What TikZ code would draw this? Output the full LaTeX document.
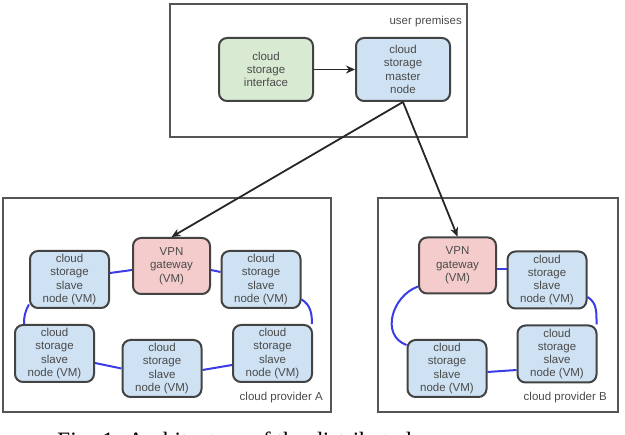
\documentclass[tikz,border=0pt]{standalone}
\usepackage{fontspec}
\setmainfont{Liberation Sans}
\newfontfamily\capfont{Liberation Serif}
\usetikzlibrary{arrows.meta,backgrounds}
\definecolor{nodeblue}{HTML}{CFE2F3}
\definecolor{nodegreen}{HTML}{D9EAD3}
\definecolor{nodered}{HTML}{F4CCCC}
\definecolor{edgecol}{HTML}{434343}
\definecolor{txtcol}{HTML}{4A4A4A}
\definecolor{linkblue}{HTML}{3B3BE8}
\definecolor{regioncol}{HTML}{555555}
\begin{document}
\begin{tikzpicture}[x=1pt,y=-1pt,
  nodebase/.style={draw=edgecol, line width=2pt, rounded corners=8pt, align=center,
    text=txtcol, font=\fontsize{11.5}{13.3}\selectfont, inner sep=0pt},
  slave/.style={nodebase, fill=nodeblue, minimum width=79pt, minimum height=57pt},
  vpn/.style={nodebase, fill=nodered, minimum width=77pt, minimum height=56pt},
  topnode/.style={nodebase, minimum width=94pt, minimum height=63pt},
  region/.style={draw=regioncol, line width=1.3pt},
  lbl/.style={text=txtcol, font=\fontsize{11.5}{13}\selectfont, inner sep=0pt},
  link/.style={draw=linkblue, line width=2pt},
  arr/.style={draw=black!85, line width=1.8pt, -{Stealth[length=9pt,width=8pt]}}]
\useasboundingbox (0,0) rectangle (625,435);
\clip (0,0) rectangle (625,435);

% regions
\draw[region] (170,4) rectangle (467,137);
\draw[region] (3,198) rectangle (331,412);
\draw[region] (378,198) rectangle (618,412);
\node[lbl, anchor=east] (lup) at (462,22) {user premises};
\node[lbl, anchor=east] (lpa) at (323,398) {cloud provider A};
\node[lbl, anchor=east] (lpb) at (607,398) {cloud provider B};

% user premises
\node[topnode, fill=nodegreen] (iface) at (266,69.5) {cloud\\storage\\interface};
\node[topnode, fill=nodeblue] (master) at (403,69.5) {cloud\\storage\\master\\node};

% provider A
\node[vpn] (vpnA) at (171.5,266) {VPN\\gateway\\(VM)};
\node[slave] (a1) at (69.5,279.5) {cloud\\storage\\slave\\node (VM)};
\node[slave] (a2) at (261,279.5) {cloud\\storage\\slave\\node (VM)};
\node[slave] (a3) at (54.5,353.5) {cloud\\storage\\slave\\node (VM)};
\node[slave] (a4) at (162,368.5) {cloud\\storage\\slave\\node (VM)};
\node[slave] (a5) at (272.5,353.5) {cloud\\storage\\slave\\node (VM)};

% provider B
\node[vpn] (vpnB) at (457.5,265.5) {VPN\\gateway\\(VM)};
\node[slave] (b1) at (547,280) {cloud\\storage\\slave\\node (VM)};
\node[slave] (b2) at (557,354) {cloud\\storage\\slave\\node (VM)};
\node[slave] (b3) at (447,368.5) {cloud\\storage\\slave\\node (VM)};

\begin{scope}[on background layer]
% blue links A
\draw[link] ([yshift=-4pt]vpnA.west) -- ([yshift=6.5pt]a1.east);
\draw[link] ([yshift=-4pt]vpnA.east) -- ([yshift=7.5pt]a2.west);
\draw[link] ([yshift=-25pt]a1.west) to[out=-120,in=90] ([xshift=10pt]a3.north west);
\draw[link] ([yshift=-20pt]a2.east) to[out=-30,in=90] ([xshift=-1pt]a5.north east);
\draw[link] ([yshift=-9.5pt]a3.east) -- (a4.west);
\draw[link] ([yshift=-1.5pt]a4.east) -- ([yshift=-11.5pt]a5.west);
% blue links B
\draw[link] ([yshift=-3.5pt]vpnB.east) -- ([yshift=11pt]b1.west);
\draw[link] ([yshift=-17pt]b1.east) to[out=-30,in=90] ([xshift=-1pt]b2.north east);
\draw[link] ([yshift=-16pt]b2.west) -- ([yshift=-3.5pt]b3.east);
\draw[link] ([yshift=-21pt]vpnB.west) to[out=200,in=160,looseness=1.2] ([yshift=23.5pt]b3.west);
\end{scope}

% arrows
\draw[arr] (iface.east) -- (master.west);
\draw[arr] (master.south) -- (vpnA.north);
\draw[arr] (master.south) -- (vpnB.north);

% caption (cut off by the frame, as in the reference)
\node[anchor=base west, inner sep=0pt, font=\capfont\fontsize{23.5}{26}\selectfont] (cap) at (57,449) {Fig. 1. Architecture of the distributed};
\end{tikzpicture}
\end{document}
